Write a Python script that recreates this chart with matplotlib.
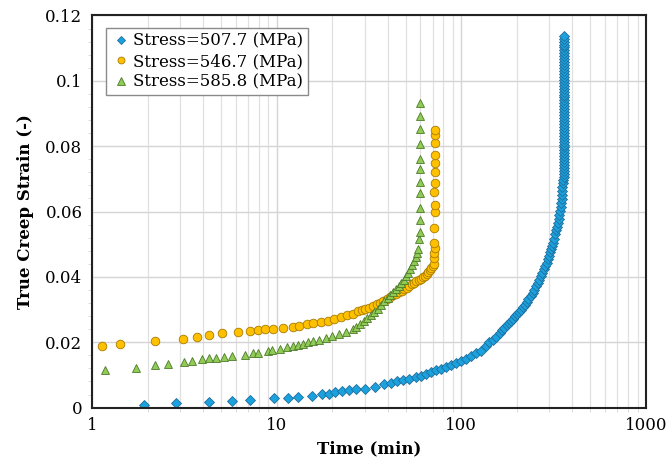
import matplotlib
matplotlib.use("Agg")
import matplotlib.pyplot as plt
from matplotlib.ticker import MultipleLocator, LogLocator, NullFormatter

# Stress = 507.7 MPa
t_507 = [1.92, 2.86, 4.3, 5.7, 7.2, 9.6, 11.5, 13.0, 15.5, 17.5, 19.2, 20.7, 22.5, 24.5, 27.0,
         30.2, 34.2, 38.3, 41.6, 44.6, 48.1, 52.3, 56.8, 60.5, 64.4, 68.5, 72.9, 77.6, 82.6, 87.9,
         93.6, 99.6, 106, 113, 120, 128, 136, 142, 148, 154,
         161, 166, 171, 176, 181, 186, 190, 195, 200, 205, 210, 215, 220, 226, 231, 237, 243, 248,
         254, 259, 265, 270, 275, 280, 285, 290, 294, 299, 303, 307, 310, 313, 317, 321, 325, 329,
         333, 336, 339, 342, 345, 347, 349, 351, 352, 353, 354,
         357, 358, 359, 358, 359, 360, 359, 360, 359, 360, 361, 360, 359, 360, 361, 360, 361, 360,
         361, 360, 361, 362, 361, 360, 361, 362, 361, 360, 361, 362, 361, 362, 361, 360, 361, 362,
         361, 362, 361, 362, 361, 360, 361, 362, 361, 362, 361, 362, 361, 362]
s_507 = [0.0007, 0.0013, 0.0017, 0.0020, 0.0023, 0.0028, 0.0029, 0.0034, 0.0037, 0.0041, 0.0043, 0.0047, 0.0050, 0.0053, 0.0056,
         0.0058, 0.0064, 0.0071, 0.0076, 0.0081, 0.0084, 0.0089, 0.0095, 0.0098, 0.0104, 0.0109, 0.0114, 0.0119, 0.0124, 0.0130,
         0.0137, 0.0144, 0.0150, 0.0157, 0.0168, 0.0173, 0.0188, 0.0200, 0.0208, 0.0217,
         0.0227, 0.0236, 0.0244, 0.0252, 0.0258, 0.0265, 0.0271, 0.0279, 0.0286, 0.0293, 0.0300, 0.0307, 0.0315, 0.0323, 0.0331, 0.0341, 0.0352, 0.0361,
         0.0372, 0.0382, 0.0392, 0.0403, 0.0413, 0.0423, 0.0434, 0.0444, 0.0454, 0.0465, 0.0475, 0.0485, 0.0495, 0.0505, 0.0517, 0.0530, 0.0542, 0.0554,
         0.0566, 0.0578, 0.0590, 0.0603, 0.0615, 0.0627, 0.0639, 0.0651, 0.0663, 0.0676, 0.0688,
         0.0697, 0.0706, 0.0715, 0.0724, 0.0733, 0.0742, 0.0751, 0.0760, 0.0769, 0.0778, 0.0787, 0.0796, 0.0805, 0.0814, 0.0823, 0.0832, 0.0841, 0.0850,
         0.0859, 0.0868, 0.0877, 0.0886, 0.0895, 0.0904, 0.0913, 0.0922, 0.0931, 0.0940, 0.0949, 0.0958, 0.0967, 0.0976, 0.0985, 0.0994, 0.1003, 0.1012,
         0.1021, 0.1030, 0.1039, 0.1048, 0.1057, 0.1066, 0.1075, 0.1084, 0.1093, 0.1102, 0.1111, 0.1120, 0.1129, 0.1137]

# Stress = 546.7 MPa
t_546 = [1.13, 1.41, 2.19, 3.11, 3.69, 4.27, 5.08, 6.13, 7.16, 7.94, 8.66, 9.57, 10.8, 12.2, 13.2,
         14.5, 15.8, 17.4, 18.9, 20.5, 22.3, 23.9, 25.8, 27.4,
         28.8, 30.2, 31.7, 33.2, 34.7, 36.2, 37.8, 39.4, 41.0, 42.6, 44.2, 45.8, 47.4, 49.0, 50.6,
         52.2, 53.8, 55.4, 57.0, 58.6, 60.2, 61.8, 63.4, 64.9, 66.3, 67.6, 68.8, 69.8, 70.7,
         71.2, 71.4, 71.6, 71.5, 71.3, 71.6, 71.8, 71.5, 71.7, 71.6, 71.8, 71.6, 71.9, 71.7, 71.8]
s_546 = [0.0190, 0.0196, 0.0203, 0.0211, 0.0216, 0.0221, 0.0227, 0.0231, 0.0234, 0.0237, 0.0242, 0.0242, 0.0244, 0.0247, 0.0250,
         0.0255, 0.0258, 0.0263, 0.0265, 0.0271, 0.0278, 0.0283, 0.0288, 0.0295,
         0.0298, 0.0302, 0.0306, 0.0311, 0.0316, 0.0321, 0.0327, 0.0333, 0.0339, 0.0344, 0.0349, 0.0354, 0.0358, 0.0362, 0.0367,
         0.0372, 0.0377, 0.0382, 0.0387, 0.0391, 0.0395, 0.0400, 0.0404, 0.0408, 0.0414, 0.0420, 0.0427, 0.0434, 0.0441,
         0.0457, 0.0472, 0.0487, 0.0503, 0.0549, 0.0599, 0.0620, 0.0661, 0.0686, 0.0722, 0.0747, 0.0773, 0.0809, 0.0834, 0.0849]

# Stress = 585.8 MPa
t_585 = [1.18, 1.73, 2.2, 2.58, 3.13, 3.46, 3.93, 4.27, 4.68, 5.15, 5.69, 6.72, 7.45, 7.93, 8.93,
         9.48, 10.4, 11.4, 12.2, 13.0, 13.8, 14.7, 15.8, 17.0, 18.4, 20.0, 21.8, 23.7, 25.8,
         27.0, 28.3, 29.6, 31.0, 32.4, 33.8, 35.3, 36.8, 38.3, 39.8, 41.3, 42.8, 44.3, 45.8, 47.3,
         48.8, 50.2, 51.6, 53.0, 54.3, 55.5, 56.6, 57.6, 58.5,
         59.3, 59.5, 59.6, 59.4, 59.6, 59.5, 59.7, 59.5, 59.6, 59.5, 59.7, 59.6]
s_585 = [0.0114, 0.0122, 0.0129, 0.0134, 0.0140, 0.0142, 0.0149, 0.0151, 0.0153, 0.0155, 0.0159, 0.0162, 0.0166, 0.0168, 0.0172,
         0.0175, 0.0178, 0.0185, 0.0190, 0.0193, 0.0196, 0.0200, 0.0203, 0.0208, 0.0213, 0.0218, 0.0226, 0.0231, 0.0241,
         0.0248, 0.0256, 0.0264, 0.0273, 0.0283, 0.0293, 0.0303, 0.0314, 0.0325, 0.0336, 0.0345, 0.0354, 0.0364, 0.0373, 0.0382,
         0.0392, 0.0402, 0.0413, 0.0424, 0.0436, 0.0448, 0.0460, 0.0472, 0.0484,
         0.0515, 0.0538, 0.0574, 0.0610, 0.0658, 0.0691, 0.0729, 0.0760, 0.0806, 0.0852, 0.0892, 0.0933]

labels = ["Stress=507.7 (MPa)", "Stress=546.7 (MPa)", "Stress=585.8 (MPa)"]

plt.rcParams['font.family'] = ['DejaVu Serif']

fig = plt.figure(figsize=(6.68, 4.68), dpi=100)
ax = fig.add_axes([0.138, 0.129, 0.829, 0.838])

ax.plot(t_507, s_507, 'D', ms=4.6, mfc='#1ba1dd', mec='#1f6e9c', mew=0.6, label=labels[0])
ax.plot(t_546, s_546, 'o', ms=6.2, mfc='#ffc000', mec='#a87c00', mew=0.6, label=labels[1])
ax.plot(t_585, s_585, '^', ms=6.4, mfc='#8fcb55', mec='#4d7a2a', mew=0.6, label=labels[2])

ax.set_xscale('log')
ax.set_xlim(1, 1000)
ax.set_ylim(0, 0.12)
ax.yaxis.set_minor_locator(MultipleLocator(0.004))
ax.xaxis.set_minor_locator(LogLocator(base=10, subs=range(2, 10)))
ax.xaxis.set_minor_formatter(NullFormatter())
ax.set_xticks([1, 10, 100, 1000])
ax.set_xticklabels(["1", "10", "100", "1000"])
ax.set_yticks([0, 0.02, 0.04, 0.06, 0.08, 0.1, 0.12])
ax.set_yticklabels(["0", "0.02", "0.04", "0.06", "0.08", "0.1", "0.12"])

ax.grid(True, which='major', color='#d4d4d4', lw=1.0)
ax.grid(True, which='minor', axis='x', color='#e0e0e0', lw=0.9)
ax.set_axisbelow(True)

ax.tick_params(which='major', length=0, labelsize=12, pad=7)
ax.tick_params(which='minor', length=3, color='#dddddd', width=0.7)
for sp in ax.spines.values():
    sp.set_linewidth(1.5)
    sp.set_color('#222222')

ax.set_xlabel("Time (min)", fontsize=12, fontweight='bold', labelpad=4)
ax.set_ylabel("True Creep Strain (-)", fontsize=12, fontweight='bold', labelpad=8)

leg = ax.legend(loc='upper left', fontsize=12, handletextpad=0.1, handlelength=1.2,
                borderpad=0.3, labelspacing=0.2, fancybox=False, framealpha=1,
                bbox_to_anchor=(0.01, 0.99), markerscale=0.8)
leg.get_frame().set_edgecolor('#8a8a8a')
leg.get_frame().set_linewidth(1.0)

fig.savefig("out.png", dpi=100)
